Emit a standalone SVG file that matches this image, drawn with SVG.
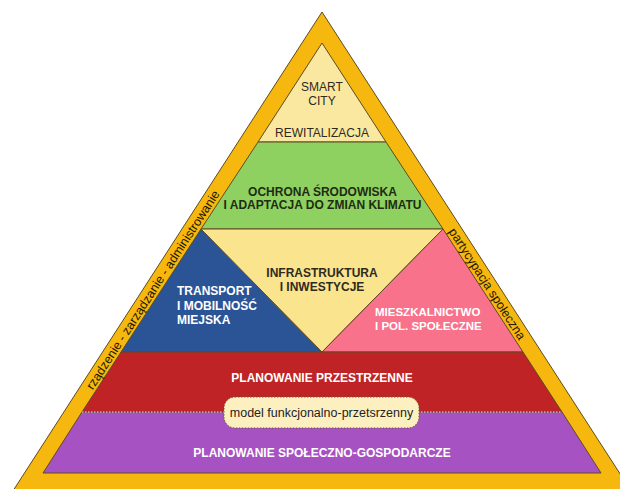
<svg xmlns="http://www.w3.org/2000/svg" width="620" height="489" viewBox="0 0 620 489">
  <style>
    .edge { stroke: #5e4b22; stroke-width: 1; stroke-linejoin: round; }
    .t { font-family: "Liberation Sans", Arial, sans-serif; font-size: 12px; text-anchor: middle; }
    .b { font-weight: bold; }
    .dark { fill: #2e2a1e; }
    .white { fill: #ffffff; }
    .band { font-family: "Liberation Sans", Arial, sans-serif; font-size: 12.5px; fill: #1c1600; text-anchor: middle; }
  </style>
  <rect width="620" height="489" fill="#ffffff"/>

  <!-- outer frame -->
  <g id="frame">
    <polygon class="edge" points="322,12 9,497 635,497" fill="#f6b70f"/>
  </g>

  <!-- apex: smart city / rewitalizacja -->
  <g id="rewitalizacja">
    <polygon class="edge" points="322,43 258,142 386,142" fill="#fbe8a0"/>
    <text class="t dark" x="322" y="91">SMART</text>
    <text class="t dark" x="322" y="104.5">CITY</text>
    <text class="t dark" x="322" y="137">REWITALIZACJA</text>
  </g>

  <!-- environment band -->
  <g id="ochrona">
    <polygon class="edge" points="258,142 386,142 443,229 201,229" fill="#8ed160"/>
    <text class="t b" x="322.5" y="196" fill="#1f2b12">OCHRONA ŚRODOWISKA</text>
    <text class="t b" x="322.5" y="209" fill="#1f2b12">I ADAPTACJA DO ZMIAN KLIMATU</text>
  </g>

  <!-- transport -->
  <g id="transport">
    <polygon class="edge" points="201,229 322,352 121,352" fill="#2b5496"/>
    <text class="t b white" x="177" y="295" style="text-anchor:start">TRANSPORT</text>
    <text class="t b white" x="177" y="310" style="text-anchor:start">I MOBILNOŚĆ</text>
    <text class="t b white" x="177" y="324" style="text-anchor:start">MIEJSKA</text>
  </g>

  <!-- infrastructure -->
  <g id="infrastruktura">
    <polygon class="edge" points="201,229 443,229 322,352" fill="#fbe48e"/>
    <text class="t b dark" x="322" y="277">INFRASTRUKTURA</text>
    <text class="t b dark" x="322" y="291">I INWESTYCJE</text>
  </g>

  <!-- housing -->
  <g id="mieszkalnictwo">
    <polygon class="edge" points="443,229 523,352 322,352" fill="#f7728a"/>
    <text class="t b white" x="375" y="316" style="text-anchor:start;font-size:11.5px">MIESZKALNICTWO</text>
    <text class="t b white" x="375" y="330" style="text-anchor:start;font-size:11.5px">I POL. SPOŁECZNE</text>
  </g>

  <!-- spatial planning -->
  <g id="planowanie-przestrzenne">
    <polygon class="edge" points="121,352 523,352 562,412 82,412" fill="#c02325"/>
    <text class="t b white" x="322" y="382">PLANOWANIE PRZESTRZENNE</text>
  </g>

  <!-- socio-economic planning -->
  <g id="planowanie-spoleczno-gospodarcze">
    <polygon class="edge" points="82,412 562,412 601,473 43,473" fill="#a652c2"/>
    <line x1="82" y1="412" x2="562" y2="412" stroke="#efe2ef" stroke-width="1.2" stroke-dasharray="1.5,1.5"/>
    <text class="t b white" x="322" y="457">PLANOWANIE SPOŁECZNO-GOSPODARCZE</text>
  </g>

  <!-- functional-spatial model -->
  <g id="model">
    <rect x="224" y="397" width="195" height="31" rx="11" fill="#fdf0c0" stroke="#6b5a2a" stroke-width="1" stroke-dasharray="1.5,1.5"/>
    <text class="t" x="321.5" y="417" fill="#222" style="font-size:12.5px">model funkcjonalno-przetsrzenny</text>
  </g>

  <!-- side labels -->
  <g id="administrowanie">
    <text class="band" transform="translate(153,290) rotate(-57.1)" dy="4">rządzenie - zarządzanie - administrowanie</text>
  </g>
  <g id="partycypacja">
    <text class="band" transform="translate(487,284) rotate(57.1)" dy="4">partycypacja społeczna</text>
  </g>
</svg>
